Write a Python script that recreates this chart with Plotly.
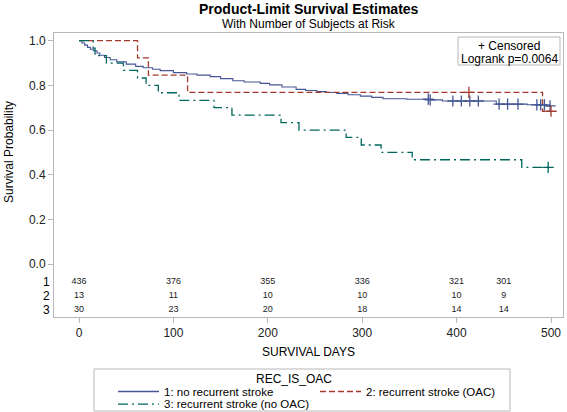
import plotly.graph_objects as go

# ---------------- data ----------------
t1 = [0, 3, 6, 9, 12, 15, 19, 22, 27, 33, 40, 50, 60, 68, 78, 86, 100, 114, 125, 139,
      150, 163, 175, 192, 202, 215, 230, 240, 252, 262, 273, 285, 298, 310, 322, 347,
      372, 385, 442, 475, 495, 500]
s1 = [1.0, 0.99, 0.98, 0.97, 0.962, 0.955, 0.945, 0.935, 0.925, 0.915, 0.905, 0.895,
      0.885, 0.879, 0.872, 0.866, 0.857, 0.851, 0.846, 0.839, 0.830, 0.821, 0.815,
      0.809, 0.802, 0.793, 0.782, 0.777, 0.772, 0.768, 0.764, 0.758, 0.752, 0.746,
      0.740, 0.738, 0.735, 0.730, 0.716, 0.713, 0.708, 0.708]
t2 = [0, 62, 73.5, 115, 491, 500]
s2 = [1.0, 0.923, 0.846, 0.769, 0.684, 0.684]
t3 = [0, 15, 17, 29, 47, 62, 71, 84, 106, 143, 162, 214, 233, 283, 299, 320, 353, 469, 497]
s3 = [1.0, 0.967, 0.933, 0.900, 0.867, 0.833, 0.800, 0.767, 0.733, 0.700, 0.667, 0.633,
      0.600, 0.567, 0.533, 0.500, 0.467, 0.433, 0.433]

cens1 = [370, 372, 396, 405, 414, 423, 445, 454, 465, 485, 489, 493, 499]
cens2 = [413, 500]
cens3 = [497]

risk_times = [0, 100, 200, 300, 400, 450]
risk1 = [436, 376, 355, 336, 321, 301]
risk2 = [13, 11, 10, 10, 10, 9]
risk3 = [30, 23, 20, 18, 14, 14]

group_labels = ["1: no recurrent stroke", "2: recurrent stroke (OAC)", "3: recurrent stroke (no OAC)"]
x_ticks = [0, 100, 200, 300, 400, 500]
y_ticks = [0.0, 0.2, 0.4, 0.6, 0.8, 1.0]

# ---------------- styling ----------------
C1, C2, C3 = "#445694", "#A23A2E", "#01665E"
FONT = "Liberation Sans, Arial, sans-serif"
TXT = "#222222"
FRAME = "#b8b8b8"
DASH2 = "6px,3px"
DASH3 = "10px,4px,2px,4px"

W, H = 567, 412
L, R, T, B = 54, 563, 33, 317


def px(xp):
    return (xp - L) / (R - L)


def py(yp):
    return (B - yp) / (B - T)


def step_at(ts, ss, t):
    v = ss[0]
    for tt, sv in zip(ts, ss):
        if tt <= t:
            v = sv
    return v


fig = go.Figure()

curves = [(t1, s1, C1, "solid", 1.1), (t2, s2, C2, DASH2, 1.3), (t3, s3, C3, DASH3, 1.3)]
for ts, ss, col, dash, w in curves:
    fig.add_trace(go.Scatter(x=ts, y=ss, mode="lines",
                             line=dict(color=col, width=w, dash=dash, shape="hv"),
                             showlegend=False, hoverinfo="skip"))

for cts, (ts, ss, col, _, _) in zip([cens1, cens2, cens3], curves):
    fig.add_trace(go.Scatter(x=cts, y=[step_at(ts, ss, c) for c in cts], mode="markers",
                             marker=dict(symbol="cross-thin", size=8,
                                         line=dict(color=col, width=1.3)),
                             showlegend=False, hoverinfo="skip"))

row_y = [-0.081, -0.143, -0.206]
for risk, yy in zip([risk1, risk2, risk3], row_y):
    fig.add_trace(go.Scatter(x=risk_times, y=[yy] * len(risk_times), mode="text",
                             text=[str(v) for v in risk],
                             textfont=dict(size=9, color=TXT, family=FONT),
                             showlegend=False, hoverinfo="skip", cliponaxis=False))

annotations = []
shapes = []

# titles
annotations.append(dict(text="<b>Product-Limit Survival Estimates</b>", xref="paper", yref="paper",
                        x=0.5, y=py(8.5), xanchor="center", yanchor="middle", showarrow=False,
                        font=dict(size=14, color="#000", family=FONT)))
annotations.append(dict(text="With Number of Subjects at Risk", xref="paper", yref="paper",
                        x=0.5, y=py(24), xanchor="center", yanchor="middle", showarrow=False,
                        font=dict(size=12, color="#000", family=FONT)))
# y-axis title
annotations.append(dict(text="Survival Probability", xref="paper", yref="paper",
                        x=px(9), y=py(152), xanchor="center", yanchor="middle", textangle=-90,
                        showarrow=False, font=dict(size=12, color="#000", family=FONT)))
# at-risk row labels
for i, yy in enumerate(row_y):
    annotations.append(dict(text=str(i + 1), xref="paper", yref="y", x=px(52), y=yy,
                            xanchor="right", yanchor="middle", showarrow=False,
                            font=dict(size=12, color="#000", family=FONT)))

# inset box
shapes.append(dict(type="rect", xref="paper", yref="paper", x0=px(458), x1=px(560),
                   y0=py(65), y1=py(37), line=dict(color=FRAME, width=1), fillcolor="white"))
annotations.append(dict(text="+ Censored", xref="paper", yref="paper", x=px(509), y=py(45.5),
                        xanchor="center", yanchor="middle", showarrow=False,
                        font=dict(size=12, color="#000", family=FONT)))
annotations.append(dict(text="Logrank p=0.0064", xref="paper", yref="paper", x=px(509), y=py(59),
                        xanchor="center", yanchor="middle", showarrow=False,
                        font=dict(size=12, color="#000", family=FONT)))

# custom legend
shapes.append(dict(type="rect", xref="paper", yref="paper", x0=px(94), x1=px(510),
                   y0=py(411), y1=py(369), line=dict(color=FRAME, width=1), fillcolor="white"))
annotations.append(dict(text="REC_IS_OAC", xref="paper", yref="paper", x=px(294), y=py(379),
                        xanchor="center", yanchor="middle", showarrow=False,
                        font=dict(size=12, color="#000", family=FONT)))
leg_items = [(118, 391.5, C1, "solid", group_labels[0]),
             (320, 391.5, C2, DASH2, group_labels[1]),
             (118, 404.2, C3, DASH3, group_labels[2])]
for x0, yy, col, dash, lab in leg_items:
    shapes.append(dict(type="line", xref="paper", yref="paper", x0=px(x0), x1=px(x0 + 41),
                       y0=py(yy), y1=py(yy), line=dict(color=col, width=1.3, dash=dash)))
    annotations.append(dict(text=lab, xref="paper", yref="paper", x=px(x0 + 44), y=py(yy),
                            xanchor="left", yanchor="middle", showarrow=False,
                            font=dict(size=11.5, color="#000", family=FONT)))

fig.update_layout(
    width=W, height=H, autosize=False,
    margin=dict(l=L, r=W - R, t=T, b=H - B, pad=0),
    paper_bgcolor="white", plot_bgcolor="white",
    font=dict(family=FONT, size=12, color=TXT),
    showlegend=False,
    annotations=annotations, shapes=shapes,
    xaxis=dict(range=[-26.5, 512.7], tickvals=x_ticks, ticktext=[str(v) for v in x_ticks],
               ticks="outside", ticklen=5, tickcolor=FRAME, showgrid=False, zeroline=False,
               showline=True, linecolor=FRAME, linewidth=1, mirror=True, automargin=False,
               tickfont=dict(size=12, color=TXT, family=FONT),
               title=dict(text="SURVIVAL DAYS", font=dict(size=12, color="#000", family=FONT),
                          standoff=8)),
    yaxis=dict(range=[-0.2373, 1.0345], tickvals=y_ticks, ticktext=[f"{v:.1f}" for v in y_ticks],
               ticks="outside", ticklen=5, tickcolor=FRAME, showgrid=False, zeroline=False,
               showline=True, linecolor=FRAME, linewidth=1, mirror=True, automargin=False,
               tickfont=dict(size=12, color=TXT, family=FONT)),
)

fig.write_html("out.html", config={"displayModeBar": False},
               post_script="document.body.style.margin='0px';")
